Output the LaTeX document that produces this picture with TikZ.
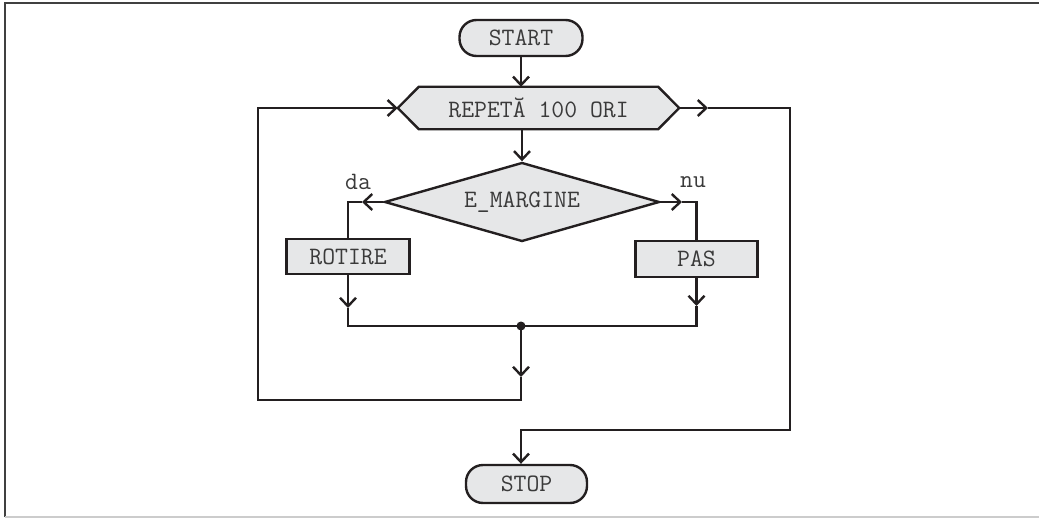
\documentclass[tikz,border=0pt]{standalone}
\usepackage{fontspec}
\usetikzlibrary{arrows.meta,shapes.geometric,calc}
\definecolor{boxfill}{HTML}{E6E7E8}
\definecolor{ink}{HTML}{231F20}
\definecolor{txt}{HTML}{3A3A3A}
\begin{document}
\begin{tikzpicture}[x=1pt,y=-1pt,
  line width=2.4pt, draw=ink,
  flow/.style={draw=ink, line width=2.4pt, -{Straight Barb[length=8.5pt,width=16pt,line width=2.4pt]}},
  wire/.style={draw=ink, line width=2.4pt},
  lbl/.style={font=\ttfamily\fontsize{25}{27}\selectfont, text=txt, inner sep=0pt},
  term/.style={lbl, draw=ink, fill=boxfill, rectangle, rounded corners=17pt, inner sep=0pt},
  proc/.style={lbl, draw=ink, fill=boxfill, rectangle, inner sep=0pt},
  cond/.style={lbl, draw=ink, fill=boxfill, diamond, aspect=3.48, inner sep=0pt,
               minimum width=275pt, minimum height=79pt},
  loopbox/.style={lbl, rectangle, minimum width=279pt, minimum height=40pt}]

% page and frame
\useasboundingbox (0,0) rectangle (1039,519);
\draw[black!75, line width=1.6pt] (5,517) -- (5,3) -- (1039,3);
\draw[black!20, line width=1.4pt] (5,517) -- (1039,517);

% blocks
\node[term, minimum width=123pt, minimum height=36pt] (start) at (521,38) {START};
\node[loopbox] (rep) at (538.5,108) {};
\filldraw[fill=boxfill, draw=ink, line width=2.4pt]
  (rep.west) -- ($(rep.north west)+(21,0)$) -- ($(rep.north east)+(-21,0)$)
  -- (rep.east) -- ($(rep.south east)+(-21,0)$) -- ($(rep.south west)+(21,0)$) -- cycle;
\node[lbl] (reptext) at (rep.center) {REPETĂ 100 ORI};
\node[cond] (dia) at (522,202) {E\_MARGINE};
\node[proc, minimum width=123pt, minimum height=35pt] (rot) at (348,256.5) {ROTIRE};
\node[proc, minimum width=122pt, minimum height=36pt] (pas) at (696.5,259) {PAS};
\node[term, minimum width=121pt, minimum height=38pt] (stop) at (526.5,484) {STOP};
\node[lbl] (da) at (358,182) {da};
\node[lbl] (nu) at (693,182) {nu};

% bend points
\coordinate (daTip) at (362,202);
\coordinate (daC) at (rot.north |- dia.west);
\coordinate (nuTip) at (682,202);
\coordinate (nuC) at (pas.north |- dia.east);
\coordinate (rotTip) at (rot.south |- 0,308);
\coordinate (rotC) at (rot.south |- 0,326);
\coordinate (pasTip) at (pas.south |- 0,306);
\coordinate (pasC) at (pas.south |- 0,326);
\coordinate (join) at (521,326);
\coordinate (joinTip) at (521,377);
\coordinate (back1) at (521,400);
\coordinate (back2) at (258,400);
\coordinate (back3) at (258,108);
\coordinate (outTip) at (708,108);
\coordinate (out1) at (790,108);
\coordinate (out2) at (790,430);
\coordinate (out3) at (521,430);

% connectors
\draw[flow] (start.south) -- (start.south |- rep.north);
\draw[flow] (rep.south -| dia.north) -- (dia.north);
\draw[flow] (dia.west) -- (daTip);
\draw[wire] (daTip) -- (daC) -- (rot.north);
\draw[flow] (dia.east) -- (nuTip);
\draw[wire] (nuTip) -- (nuC) -- (pas.north);
\draw[flow] (rot.south) -- (rotTip);
\draw[flow] (pas.south) -- (pasTip);
\draw[wire] (rotTip) -- (rotC) -- (pasC) -- (pasTip);
\fill[ink] (join) circle (4.5pt);
\draw[flow] (join) -- (joinTip);
\draw[flow] (joinTip) -- (back1) -- (back2) -- (back3) -- (rep.west);
\draw[flow] (rep.east) -- (outTip);
\draw[flow] (outTip) -- (out1) -- (out2) -- (out3) -- (out3 |- stop.north);
\end{tikzpicture}
\end{document}
